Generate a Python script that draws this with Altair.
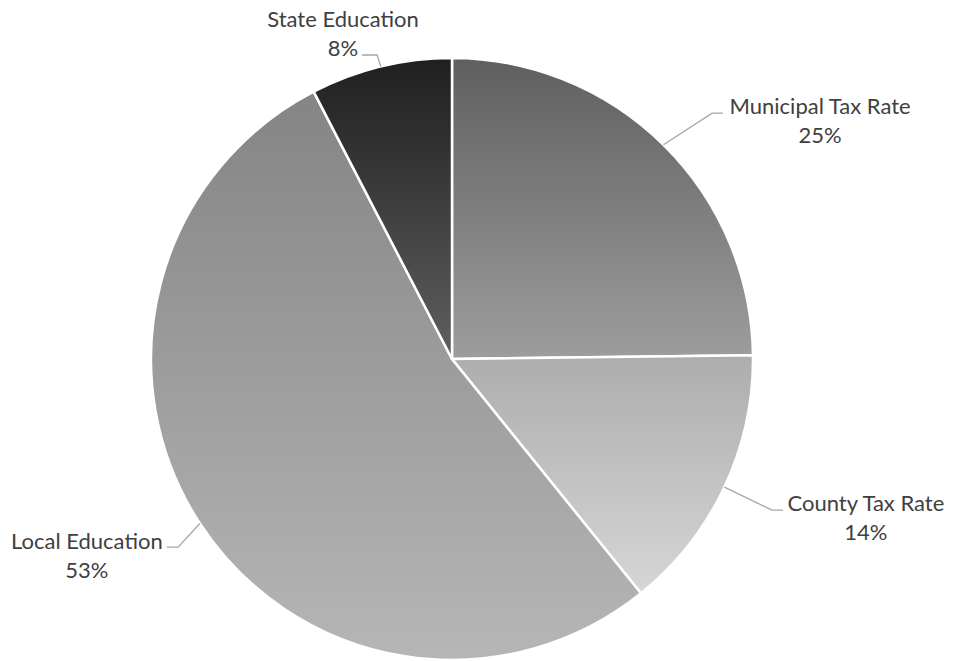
import altair as alt
import pandas as pd
import numpy as np

# ---- data ----
categories = ["Municipal Tax Rate", "County Tax Rate", "Local Education", "State Education"]
values = [24.8, 14.4, 53.2, 7.6]          # percent shares (clockwise from 12 o'clock)
pct_labels = ["25%", "14%", "53%", "8%"]

# label anchors (first line) and leader-line geometry, in pie-radius units from the centre
label_x = [1.223, 1.375, -1.213, -0.362]
label_y = [0.837, -0.482, -0.608, 1.125]
elbow_x = [0.864, 1.063, -0.910, -0.249]
elbow_y = [0.817, -0.502, -0.625, 1.010]
end_x = [0.900, 1.100, -0.947, -0.299]
end_y = [0.817, -0.502, -0.625, 1.010]

# gradient styles (top -> bottom of each slice)
grad_top = ["#5f5f5f", "#adadad", "#848484", "#1f1f1f"]
grad_bottom = ["#9d9d9d", "#d6d6d6", "#b6b6b6", "#5f5f5f"]

# ---- derived tables ----
W, H = 937, 653
CX, CY, R = 444, 351, 301

vals = np.array(values, dtype=float)
ends = np.cumsum(vals)
starts = ends - vals
total = vals.sum()

arc_df = pd.DataFrame({
    "category": categories,
    "start": starts,
    "end": ends,
    "cx": 0.0,
    "cy": 0.0,
})

rows = []
for i, c in enumerate(categories):
    mid = (starts[i] + ends[i]) / 2 / total * 2 * np.pi
    rows.append({"category": c, "seq": 0, "x": np.sin(mid), "y": np.cos(mid)})
    rows.append({"category": c, "seq": 1, "x": elbow_x[i], "y": elbow_y[i]})
    rows.append({"category": c, "seq": 2, "x": end_x[i], "y": end_y[i]})
line_df = pd.DataFrame(rows)

label_df = pd.DataFrame({
    "category": categories,
    "x": label_x,
    "y": label_y,
    "label": [c + "\n" + p for c, p in zip(categories, pct_labels)],
})

xs = alt.Scale(domain=[-CX / R, (W - CX) / R], nice=False, zero=False)
ys = alt.Scale(domain=[-(H - CY) / R, CY / R], nice=False, zero=False)
ts = alt.Scale(domain=[0, total], range=[0, 2 * np.pi])

layers = []
for i, c in enumerate(categories):
    grad = alt.LinearGradient(
        gradient="linear",
        stops=[alt.GradientStop(color=grad_top[i], offset=0),
               alt.GradientStop(color=grad_bottom[i], offset=1)],
        x1=0, x2=0, y1=0, y2=1,
    )
    layers.append(
        alt.Chart(arc_df)
        .transform_filter(alt.datum.category == c)
        .mark_arc(radius=R, fill=grad, stroke="white", strokeWidth=2.5)
        .encode(
            theta=alt.Theta("start:Q", scale=ts),
            theta2="end:Q",
            x=alt.X("cx:Q", scale=xs, axis=None),
            y=alt.Y("cy:Q", scale=ys, axis=None),
        )
    )

lines = alt.Chart(line_df).mark_line(color="#a6a6a6", strokeWidth=1.3).encode(
    x=alt.X("x:Q", scale=xs, axis=None),
    y=alt.Y("y:Q", scale=ys, axis=None),
    detail="category:N",
    order="seq:Q",
)

texts = alt.Chart(label_df).mark_text(
    font="Lato", fontSize=22, color="#404040", lineBreak="\n",
    lineHeight=28.5, align="center", baseline="middle",
).encode(
    x=alt.X("x:Q", scale=xs, axis=None),
    y=alt.Y("y:Q", scale=ys, axis=None),
    text="label:N",
)

chart = alt.layer(*layers, lines, texts).properties(
    width=W, height=H, padding=0,
    autosize=alt.AutoSizeParams(type="none"),
).configure_view(stroke=None)

chart.save("out.html", embed_options={"renderer": "svg", "actions": False})
